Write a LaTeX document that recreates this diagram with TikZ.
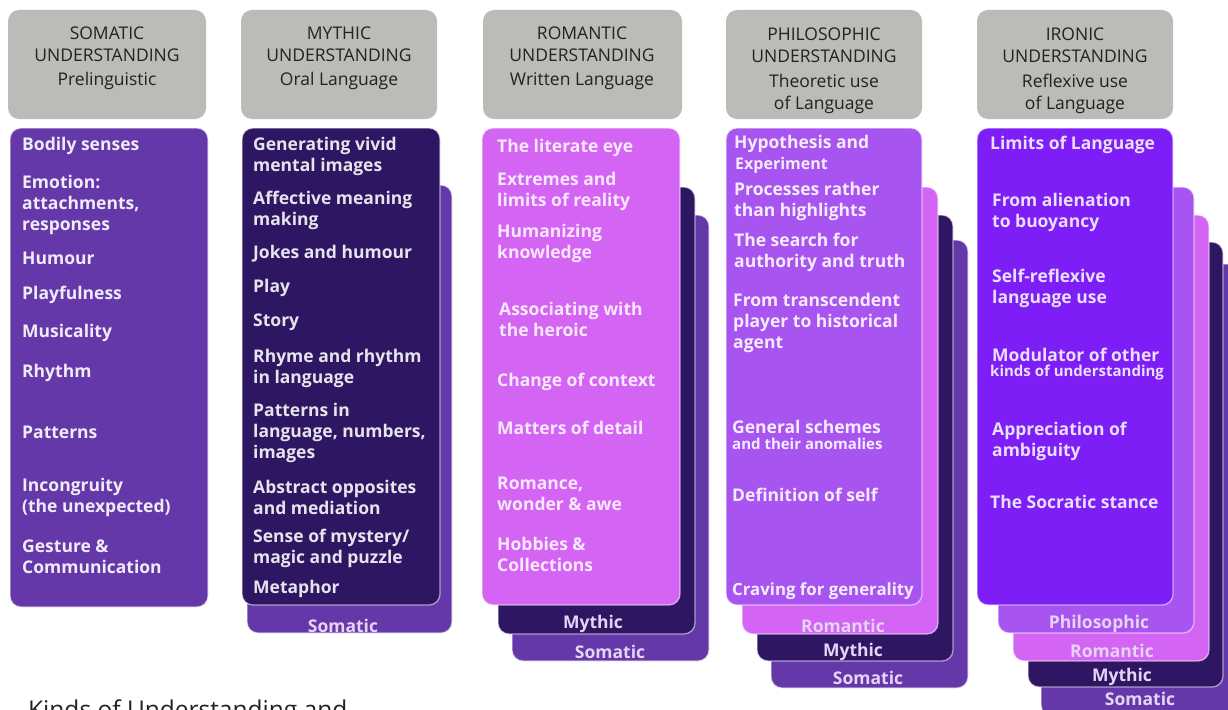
\documentclass[tikz,border=0pt]{standalone}
\usepackage{fontspec}
\setmainfont{Open Sans}
\definecolor{hdrgray}{RGB}{186,188,184}
\definecolor{somc}{RGB}{101,56,170}
\definecolor{mythc}{RGB}{46,22,98}
\definecolor{romc}{RGB}{212,100,244}
\definecolor{philc}{RGB}{168,84,240}
\definecolor{ironc}{RGB}{124,30,245}
\definecolor{lbl}{RGB}{230,212,246}
\definecolor{hdrtext}{RGB}{34,34,34}
\tikzset{
  hdr/.style={fill=hdrgray, rounded corners=11pt},
  card/.style={rounded corners=11pt, draw=white, draw opacity=0.55, line width=1.3pt},
  htitle/.style={align=center, inner sep=0pt, text=hdrtext, font=\fontsize{17.5}{21.5}\selectfont},
  item/.style={anchor=west, align=left, inner sep=0pt, font=\fontsize{17.5}{21}\selectfont\bfseries},
  small/.style={anchor=west, align=left, inner sep=0pt, font=\fontsize{15}{17}\selectfont\bfseries},
  lab/.style={inner sep=0pt, text=lbl, font=\fontsize{17.5}{20}\selectfont\bfseries}
}
\begin{document}
\begin{tikzpicture}[x=1pt,y=-1pt]
\useasboundingbox (0,0) rectangle (1228,709);
\clip (0,0) rectangle (1228,709);
\fill[white] (0,0) rectangle (1228,709);

% headers
\path[hdr] (8,10) rectangle (206,119);
\path[hdr] (241,10) rectangle (437,119);
\path[hdr] (483,10) rectangle (682,119);
\path[hdr] (726,10) rectangle (922,119);
\path[hdr] (977,10) rectangle (1173,119);
\node[htitle] (h1a) at (107,44) {SOMATIC\\UNDERSTANDING};
\node[htitle] (h1b) at (107,81) {Prelinguistic};
\node[htitle] (h2a) at (339,44) {MYTHIC\\UNDERSTANDING};
\node[htitle] (h2b) at (339,81) {Oral Language};
\node[htitle] (h3a) at (582,44) {ROMANTIC\\UNDERSTANDING};
\node[htitle] (h3b) at (582,81) {Written Language};
\node[htitle] (h4a) at (824,45) {PHILOSOPHIC\\UNDERSTANDING};
\node[htitle] (h4b) at (824,94) {Theoretic use\\of Language};
\node[htitle] (h5a) at (1075,45) {IRONIC\\UNDERSTANDING};
\node[htitle] (h5b) at (1075,94) {Reflexive use\\of Language};

% ---- column 1: somatic
\path[card, fill=somc] (10,128) rectangle (208,607);
\begin{scope}[every node/.append style={text=white!90!somc}]
\node[item] (s1) at (22,146) {Bodily senses};
\node[item] (s2) at (22,205) {Emotion:\\attachments,\\responses};
\node[item] (s3) at (22,258) {Humour};
\node[item] (s4) at (22,295) {Playfulness};
\node[item] (s5) at (22,333) {Musicality};
\node[item] (s6) at (22,373) {Rhythm};
\node[item] (s7) at (22,432) {Patterns};
\node[item] (s8) at (22,497) {Incongruity\\(the unexpected)};
\node[item] (s9) at (22,557) {Gesture \&\\Communication};
\end{scope}

% ---- column 2: mythic
\path[card, fill=somc] (247,185) rectangle (452,633);
\node[lab] (m0) at (343,626) {Somatic};
\path[card, fill=mythc] (242,128) rectangle (440,605);
\begin{scope}[every node/.append style={text=white!88!mythc}]
\node[item] (m1) at (253,156) {Generating vivid\\mental images};
\node[item] (m2) at (253,210) {Affective meaning\\making};
\node[item] (m3) at (253,254) {Jokes and humour};
\node[item] (m4) at (253,288) {Play};
\node[item] (m5) at (253,322) {Story};
\node[item] (m6) at (253,368) {Rhyme and rhythm\\in language};
\node[item] (m7) at (253,433) {Patterns in\\language, numbers,\\images};
\node[item] (m8) at (253,497) {Abstract opposites\\and mediation};
\node[item] (m9) at (253,548) {Sense of mystery/\\magic and puzzle};
\node[item] (m10) at (253,589) {Metaphor};
\end{scope}

% ---- column 3: romantic
\path[card, fill=somc] (512,215) rectangle (709,661);
\node[lab] (r0a) at (610,652) {Somatic};
\path[card, fill=mythc] (498,187) rectangle (695,634);
\node[lab] (r0b) at (593,624) {Mythic};
\path[card, fill=romc] (482,128) rectangle (680,605);
\begin{scope}[every node/.append style={text=white!85!romc}]
\node[item] (r1) at (497,148) {The literate eye};
\node[item] (r2) at (497,191) {Extremes and\\limits of reality};
\node[item] (r3) at (497,243) {Humanizing\\knowledge};
\node[item] (r4) at (499,319) {Associating with\\the heroic};
\node[item] (r5) at (497,382) {Change of context};
\node[item] (r6) at (497,428) {Matters of detail};
\node[item] (r7) at (497,494) {Romance,\\wonder \& awe};
\node[item] (r8) at (497,554) {Hobbies \&\\Collections};
\end{scope}

% ---- column 4: philosophic
\path[card, fill=somc] (771,240) rectangle (968,688);
\node[lab] (p0a) at (868,678) {Somatic};
\path[card, fill=mythc] (757,215) rectangle (953,661);
\node[lab] (p0b) at (853,652) {Mythic};
\path[card, fill=romc] (742,187) rectangle (938,634);
\node[lab] (p0c) at (843,626) {Romantic};
\path[card, fill=philc] (726,128) rectangle (922,605);
\begin{scope}[every node/.append style={text=white!88!philc}]
\node[item] (p1) at (734,144) {Hypothesis and};
\node[small, font=\fontsize{16}{17}\selectfont\bfseries] (p1b) at (735,165) {Experiment};
\node[item] (p2) at (734,201) {Processes rather\\than highlights};
\node[item] (p3) at (734,252) {The search for\\authority and truth};
\node[item] (p4) at (733,323) {From transcendent\\player to historical\\agent};
\node[item] (p5) at (732,427) {General schemes};
\node[small] (p5b) at (732,444) {and their anomalies};
\node[item] (p6) at (732,495) {Definition of self};
\node[item, font=\fontsize{16.8}{21}\selectfont\bfseries] (p7) at (732,591) {Craving for generality};
\end{scope}

% ---- column 5: ironic
\path[card, fill=somc] (1041,264) rectangle (1240,716);
\node[lab] (i0a) at (1140,699) {Somatic};
\path[card, fill=mythc] (1028,242) rectangle (1223,687);
\node[lab] (i0b) at (1122,677) {Mythic};
\path[card, fill=romc] (1013,215) rectangle (1209,661);
\node[lab] (i0c) at (1112,651) {Romantic};
\path[card, fill=philc] (998,187) rectangle (1194,633);
\node[lab] (i0d) at (1099,624) {Philosophic};
\path[card, fill=ironc] (977,128) rectangle (1173,605);
\begin{scope}[every node/.append style={text=white!85!ironc}]
\node[item] (i1) at (990,145) {Limits of Language};
\node[item] (i2) at (992,212) {From alienation\\to buoyancy};
\node[item] (i3) at (992,288) {Self-reflexive\\language use};
\node[item] (i4) at (992,355) {Modulator of other};
\node[small] (i4b) at (990,373) {kinds of understanding};
\node[item] (i5) at (992,441) {Appreciation of\\ambiguity};
\node[item] (i6) at (990,502) {The Socratic stance};
\end{scope}

% bottom title (cut off at the edge, as in the reference)
\node[anchor=base west, inner sep=0pt, text=hdrtext, font=\fontsize{24.5}{28}\selectfont] (title) at (28,718) {Kinds of Understanding and};
\end{tikzpicture}
\end{document}
